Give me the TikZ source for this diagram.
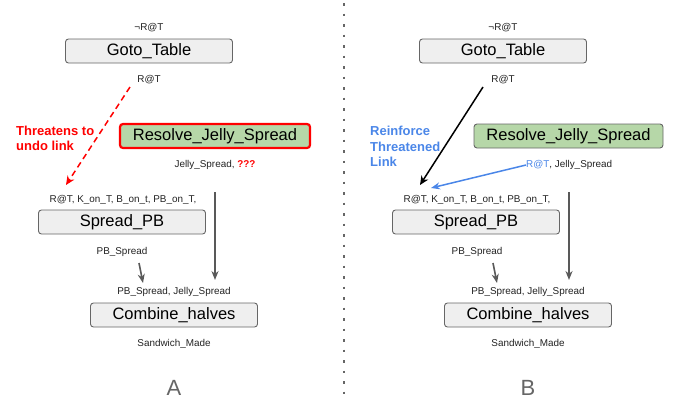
\documentclass[tikz,border=0pt]{standalone}
\usepackage{fontspec}
\setmainfont{Liberation Sans}
\usetikzlibrary{arrows.meta}
\definecolor{boxfill}{HTML}{EFEFEF}
\definecolor{boxline}{HTML}{666666}
\definecolor{jelly}{HTML}{B6D7A8}
\definecolor{redc}{HTML}{FF0000}
\definecolor{bluec}{HTML}{4A86E8}
\definecolor{arrowgray}{HTML}{595959}
\definecolor{txt}{HTML}{222222}
\definecolor{panel}{HTML}{666666}
\begin{document}
\begin{tikzpicture}[x=1pt,y=-1pt,
  actbox/.style={draw=boxline, fill=boxfill, rounded corners=3pt, line width=0.9pt,
    minimum height=24pt, minimum width=167pt, inner sep=0pt,
    font=\fontsize{16.5}{18}\selectfont, text=black},
  jellybox/.style={actbox, fill=jelly, minimum width=190pt},
  lbl/.style={font=\fontsize{9.9}{11}\selectfont, text=txt, inner sep=0pt},
  note/.style={font=\fontsize{13}{15.5}\selectfont\bfseries, align=left, inner sep=0pt},
  panellbl/.style={font=\fontsize{22}{24}\selectfont, text=panel, inner sep=0pt},
  flow/.style={draw=arrowgray, line width=1.6pt, -{Stealth[length=9pt,width=7pt]}},
]
\useasboundingbox (0,0) rectangle (677,405);

% divider
\draw[boxline, line width=2.5pt, dash pattern=on 2.5pt off 8pt] (344,3) -- (344,400);

% ---------- Panel A ----------
\node[lbl] (aneg) at (149,28) {¬R@T};
\node[actbox] (agoto) at (149,51) {Goto\_Table};
\node[lbl] (arat) at (149,80) {R@T};
\node[jellybox, draw=redc, line width=2.2pt] (ares) at (215,136) {Resolve\_Jelly\_Spread};
\node[lbl] (ajs) at (215,165) {Jelly\_Spread, \textcolor{redc}{\bfseries ???}};
\node[note, text=redc, anchor=west] (athr) at (16,138.5) {Threatens to\\undo link};
\node[lbl] (apre) at (123,200) {R@T, K\_on\_T, B\_on\_t, PB\_on\_T,};
\node[actbox] (aspread) at (122,222) {Spread\_PB};
\node[lbl] (apbs) at (122,252) {PB\_Spread};
\node[lbl] (acpre) at (174,292) {PB\_Spread, Jelly\_Spread};
\node[actbox] (acomb) at (174,315) {Combine\_halves};
\node[lbl] (asand) at (174,344) {Sandwich\_Made};
\node[panellbl] (alab) at (174,388) {A};

\coordinate (a1s) at (130,87);
\coordinate (a1e) at (66,185);
\coordinate (a2s) at (139,263);
\coordinate (a2e) at (143,283);
\coordinate (a3s) at (215,192);
\coordinate (a3e) at (215,280);
\draw[redc, line width=1.5pt, dash pattern=on 6pt off 4pt, -{Stealth[length=9pt,width=8pt]}] (a1s) -- (a1e);
\draw[flow] (a2s) -- (a2e);
\draw[flow] (a3s) -- (a3e);

% ---------- Panel B ----------
\node[lbl] (bneg) at (503,28) {¬R@T};
\node[actbox] (bgoto) at (503,51) {Goto\_Table};
\node[lbl] (brat) at (503,80) {R@T};
\node[jellybox, minimum width=189pt] (bres) at (568.5,136) {Resolve\_Jelly\_Spread};
\node[lbl, anchor=west] (bjs) at (526,165) {\textcolor{bluec}{R@T}, Jelly\_Spread};
\node[note, text=bluec, anchor=west] (brein) at (370,146.5) {Reinforce\\Threatened\\Link};
\node[lbl] (bpre) at (477,200) {R@T, K\_on\_T, B\_on\_t, PB\_on\_T,};
\node[actbox] (bspread) at (476,222) {Spread\_PB};
\node[lbl] (bpbs) at (477,252) {PB\_Spread};
\node[lbl] (bcpre) at (528,292) {PB\_Spread, Jelly\_Spread};
\node[actbox] (bcomb) at (528,315) {Combine\_halves};
\node[lbl] (bsand) at (528,344) {Sandwich\_Made};
\node[panellbl] (blab) at (528,388) {B};

\coordinate (b1s) at (483,87);
\coordinate (b1e) at (420,185);
\coordinate (b4e) at (431,188);
\coordinate (b2s) at (493,263);
\coordinate (b2e) at (497,283);
\coordinate (b3s) at (569,192);
\coordinate (b3e) at (569,280);
\draw[black, line width=1.5pt, -{Stealth[length=9pt,width=8pt]}] (b1s) -- (b1e);
\draw[bluec, line width=1.5pt, -{Stealth[length=9pt,width=7pt]}] (bjs.west) -- (b4e);
\draw[flow] (b2s) -- (b2e);
\draw[flow] (b3s) -- (b3e);
\end{tikzpicture}
\end{document}
